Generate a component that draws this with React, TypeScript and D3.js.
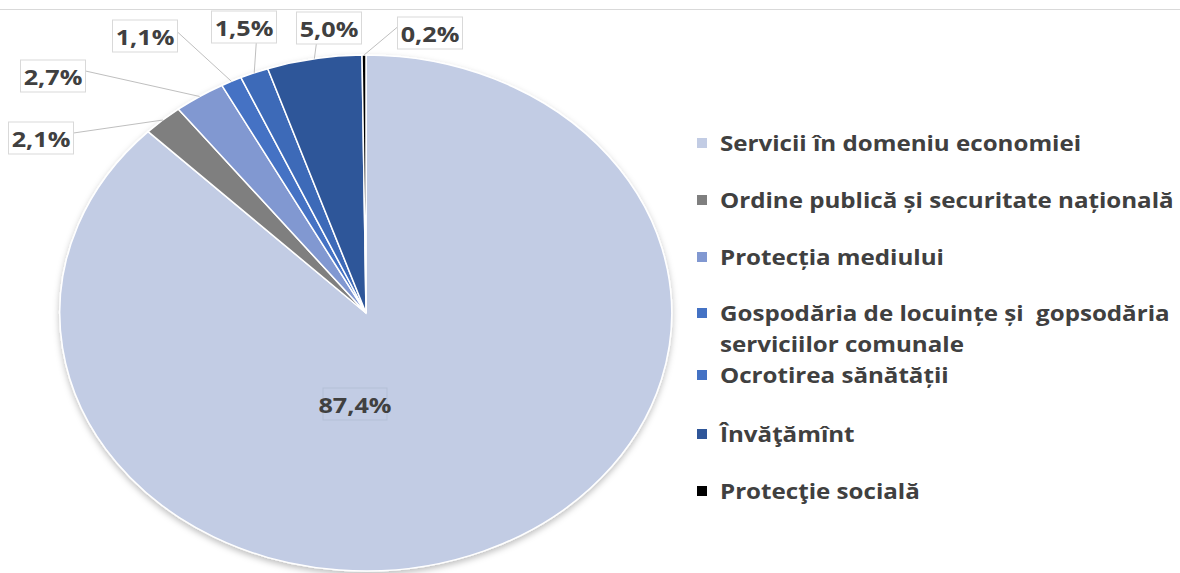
import React from "react";
import * as d3 from "d3";

const categories = [
  "Servicii în domeniu economiei",
  "Ordine publică și securitate națională",
  "Protecția mediului",
  "Gospodăria de locuințe și  gopsodăria serviciilor comunale",
  "Ocrotirea sănătății",
  "Învăţămînt",
  "Protecţie socială",
];
const values = [87.4, 2.1, 2.7, 1.1, 1.5, 5.0, 0.2];
const valueLabels = ["87,4%", "2,1%", "2,7%", "1,1%", "1,5%", "5,0%", "0,2%"];
const sliceColors = ["#c2cce4", "#7f7f7f", "#8198d1", "#4472c4", "#3d6ab8", "#2f5699", "#000000"];
const legendColors = ["#c2cce4", "#7f7f7f", "#8198d1", "#4472c4", "#4472c4", "#2f5699", "#000000"];
const legendLines = [
  ["Servicii în domeniu economiei"],
  ["Ordine publică și securitate națională"],
  ["Protecția mediului"],
  ["Gospodăria de locuințe și  gopsodăria", "serviciilor comunale"],
  ["Ocrotirea sănătății"],
  ["Învăţămînt"],
  ["Protecţie socială"],
];

const W = 1180;
const H = 573;
const cx = 366;
const cy = 313;
const rx = 306;
const ry = 258;

// label box centers (layout)
const labelLayout = [
  { x: 355, y: 404, inside: true },
  { x: 41, y: 138 },
  { x: 53, y: 76 },
  { x: 145, y: 36 },
  { x: 244, y: 27 },
  { x: 329, y: 28 },
  { x: 430, y: 33 },
];
const legendY = [143, 200, 257, 313, 375, 434, 491];
const FONT = "'Open Sans', 'DejaVu Sans', sans-serif";

export default function App() {
  const pie = d3.pie<number>().value((d) => d).sort(null);
  const arcs = pie(values);
  const arcGen = d3.arc<d3.PieArcDatum<number>>().innerRadius(0).outerRadius(1);
  const sx = 1.2;

  return (
    <svg
      width={W}
      height={H}
      style={{ position: "absolute", left: 0, top: 0, display: "block", background: "#fff" }}
    >
      <defs>
        <filter id="shadow" x="-10%" y="-10%" width="120%" height="125%">
          <feDropShadow dx="0" dy="3" stdDeviation="3" floodColor="#000" floodOpacity="0.25" />
        </filter>
      </defs>
      <rect x={0} y={0} width={W} height={H} fill="#fff" />
      <line x1={0} x2={W} y1={9.5} y2={9.5} stroke="#d9d9d9" strokeWidth={1} />
      <g transform={`translate(${cx},${cy})`}>
        <g filter="url(#shadow)">
          <g transform={`scale(${rx},${ry})`}>
            {arcs.map((a, i) => (
              <path
                key={i}
                d={arcGen(a) || ""}
                fill={sliceColors[i]}
                stroke="#fff"
                strokeWidth={1.5}
                vectorEffect="non-scaling-stroke"
              />
            ))}
          </g>
        </g>
      </g>
      {arcs.map((a, i) => {
        const L = labelLayout[i];
        const mid = (a.startAngle + a.endAngle) / 2;
        const px = cx + rx * Math.sin(mid);
        const py = cy - ry * Math.cos(mid);
        const bw = i === 0 ? 64 : 65;
        const bh = 32;
        const bx = L.x - bw / 2;
        const by = L.y - bh / 2;
        let lx = L.x;
        let ly = L.y;
        if (!L.inside) {
          if (i === 1 || i === 2) { lx = bx + bw; ly = L.y - 5; }
          if (i === 3) { lx = bx + bw; ly = L.y - 4; }
          if (i === 4 || i === 5) { lx = px + 2; ly = by + bh; }
          if (i === 6) { lx = bx; ly = L.y - 6; }
        }
        return (
          <g key={i}>
            {!L.inside && (
              <line x1={px} y1={py} x2={lx} y2={ly} stroke="#bfbfbf" strokeWidth={1} />
            )}
            <rect
              x={bx}
              y={by}
              width={bw}
              height={bh}
              fill={L.inside ? "none" : "#fff"}
              stroke={L.inside ? "#b4bfd6" : "#d9d9d9"}
              strokeWidth={1}
            />
            <text
              transform={`translate(${L.x},${L.y + 1}) scale(${sx},1)`}
              textAnchor="middle"
              dominantBaseline="central"
              fontFamily={FONT}
              fontWeight={700}
              fontSize={21}
              fill="#404040"
            >
              {valueLabels[i]}
            </text>
          </g>
        );
      })}
      {legendLines.map((lines, i) => (
        <g key={i}>
          <rect x={697} y={legendY[i] - 5} width={10} height={10} fill={legendColors[i]} />
          {lines.map((t, j) => (
            <text
              key={j}
              transform={`translate(720,${legendY[i] + j * 31}) scale(1.15,1)`}
              dominantBaseline="central"
              fontFamily={FONT}
              fontWeight={700}
              fontSize={21}
              fill="#404040"
              style={{ whiteSpace: "pre" }}
            >
              {t}
            </text>
          ))}
        </g>
      ))}
    </svg>
  );
}
